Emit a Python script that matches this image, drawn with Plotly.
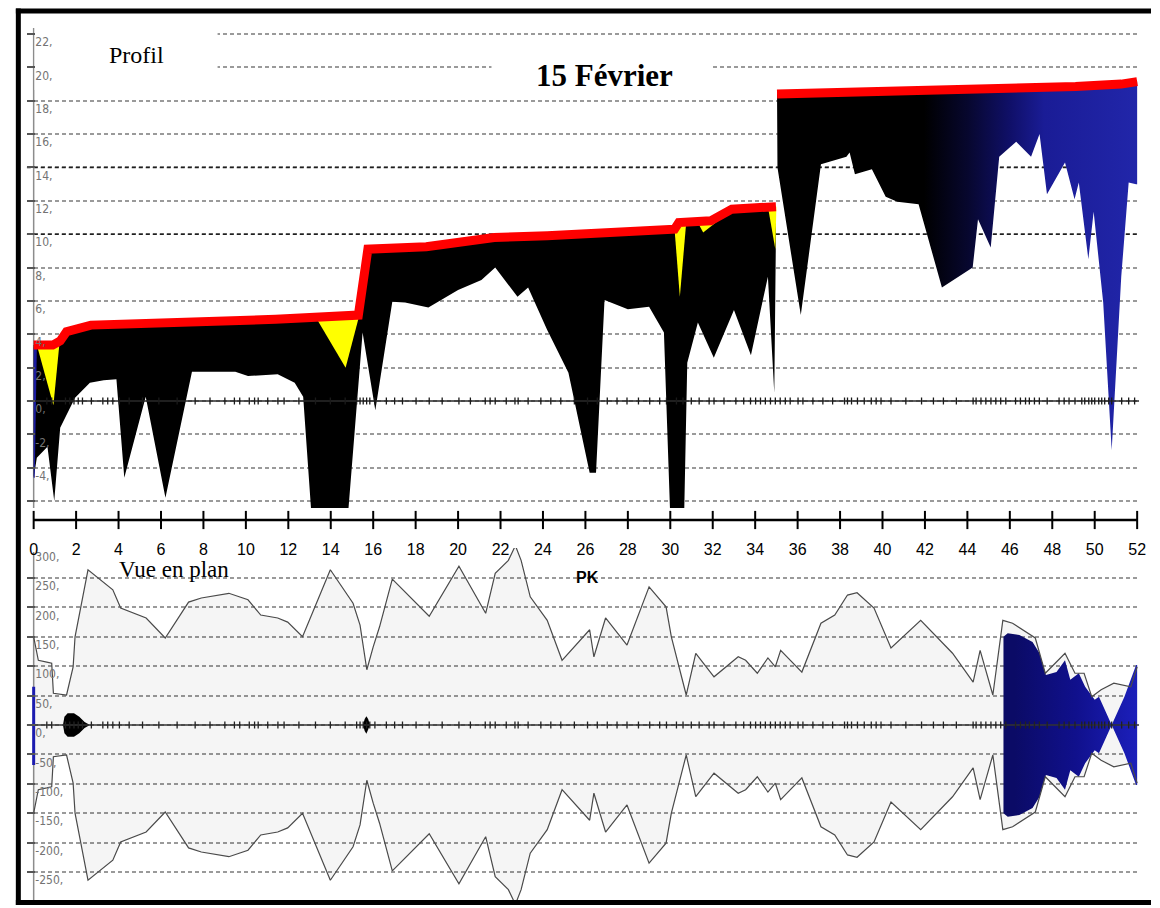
import plotly.graph_objects as go

W, H = 1160, 908

# ---------------------------------------------------------------
# Profil en long (PK en km, cotes en m)
# ---------------------------------------------------------------
pk_niveau = [0.0, 0.9, 1.25, 1.55, 2.7, 7.3, 11.4, 15.3, 15.75, 18.5, 21.7, 24.2,
             28.4, 30.2, 30.4, 31.9, 32.9, 34.98, 35.03, 38.8, 44.1, 49.1, 51.25, 52.0]
z_niveau = [3.35, 3.35, 3.6, 4.15, 4.55, 4.7, 4.9, 5.15, 9.1, 9.25, 9.8, 9.9,
            10.1, 10.3, 10.7, 10.8, 11.5, 11.65, 18.4, 18.5, 18.6, 18.85, 19.0, 19.15]

pk_fond = [0.0, 0.15, 0.65, 0.97, 1.25, 1.95, 2.65, 3.3, 3.9, 4.27, 5.28, 6.21,
           7.46, 9.5, 10.1, 11.5, 12.3, 12.7, 13.1, 14.8, 15.5, 16.1, 16.9, 17.5,
           18.6, 20.0, 21.1, 21.75, 22.8, 23.3, 24.2, 25.2, 26.2, 26.5, 26.9, 28.0,
           29.0, 29.7, 30.0, 30.65, 30.8, 31.3, 32.05, 33.0, 33.8, 34.6, 34.9, 34.97,
           35.05, 36.15, 37.1, 38.3, 38.45, 38.7, 39.5, 40.15, 40.7, 41.7, 42.8, 44.25,
           44.5, 45.1, 45.5, 46.3, 47.0, 47.4, 47.75, 48.6, 49.05, 49.25, 49.7, 49.95,
           50.4, 50.8, 51.25, 51.6, 51.95, 52.0]
z_fond = [-4.6, -3.4, -2.75, -6.0, -1.6, 0.2, 1.1, 1.25, 1.3, -4.6, 0.25, -5.8,
          1.75, 1.75, 1.5, 1.6, 1.1, 0.25, -7.0, -7.0, 4.1, -0.55, 5.95, 5.9,
          5.6, 6.65, 7.25, 8.0, 6.25, 6.8, 4.25, 1.7, -4.3, -4.3, 6.05, 5.5,
          5.65, 4.1, -7.0, -7.0, 2.3, 4.7, 2.6, 5.45, 2.75, 7.45, 0.5, 9.0,
          14.0, 5.15, 14.2, 14.65, 14.9, 13.6, 13.9, 12.25, 11.95, 11.8, 6.8, 8.0,
          10.9, 9.2, 14.65, 15.55, 14.65, 16.0, 12.4, 14.3, 12.1, 13.1, 8.5, 11.35,
          5.9, -2.95, 7.45, 13.1, 13.0, 13.0]

# bande bleue au PK 0
pk_bleu_pk0 = [0.0, 0.15, 0.05, 0.0]
z_bleu_pk0 = [3.2, 3.2, -4.6, -4.6]

# zones jaunes
pk_jaunes = [[0.15, 0.93, 1.22], [13.3, 14.7, 15.35], [30.2, 30.45, 30.75],
             [31.25, 31.55, 32.45], [34.6, 34.95, 35.0]]
z_jaunes = [[3.35, -0.25, 3.5], [5.0, 2.0, 5.15], [10.3, 6.25, 10.7],
            [10.8, 10.1, 11.0], [11.65, 9.1, 11.65]]

# profils en travers (repères sur l'axe)
stations_pk = [0.62, 0.85, 1.5, 1.7, 1.9, 2.1, 2.3, 2.72, 3.26, 3.49, 3.73, 4.04, 4.5,
               5.13, 5.9, 6.76, 7.61, 8.31, 9.01, 9.46, 9.71, 10.16, 10.41, 10.58, 11.03,
               11.51, 11.8, 12.5, 13.28, 13.98, 14.68, 15.22, 15.38, 15.53, 15.69, 15.84,
               16.08, 16.62, 17.01, 17.38, 18.02, 18.64, 19.25, 20.04, 20.58, 21.28, 21.51,
               21.75, 22.27, 22.68, 22.83, 23.3, 23.9, 24.37, 24.84, 25.48, 26.1, 26.56,
               27.03, 27.49, 27.96, 28.5, 29.03, 29.5, 29.82, 30.29, 30.6, 30.99, 31.36,
               31.83, 32.06, 32.53, 33.09, 33.46, 33.78, 34.02, 34.25, 34.48, 34.72, 34.95,
               35.18, 35.42, 35.65, 36.02, 36.25, 36.72, 37.19, 37.65, 38.21, 38.35, 38.54,
               38.82, 39.14, 39.47, 39.7, 39.93, 40.4, 41.1, 41.84, 42.4, 42.87, 43.48,
               44.27, 44.41, 44.64, 44.87, 45.11, 45.34, 45.57, 45.81, 46.27, 46.5, 46.74,
               46.92, 47.16, 47.39, 47.76, 48.32, 48.56, 48.79, 49.07, 49.39, 49.53, 49.72,
               49.86, 50.0, 50.19, 50.33, 50.47, 50.66, 50.8, 51.27, 51.6, 51.88]

# ---------------------------------------------------------------
# Vue en plan (demi-largeurs en m)
# ---------------------------------------------------------------
pk_largeur = [0.0, 0.22, 0.62, 0.85, 0.93, 1.55, 1.86, 1.95, 2.56, 3.73, 4.1, 5.3,
              6.2, 7.3, 7.9, 9.2, 10.1, 10.7, 11.5, 11.97, 12.67, 13.98, 15.05, 15.38,
              15.7, 16.0, 16.3, 16.9, 18.64, 20.04, 21.3, 21.75, 22.37, 22.7, 22.97, 23.4,
              24.2, 24.9, 26.2, 26.4, 26.95, 27.96, 29.0, 29.8, 30.05, 30.75, 31.2, 32.06,
              33.2, 33.55, 34.1, 34.6, 34.95, 35.2, 36.2, 37.1, 37.75, 38.35, 38.8, 39.6,
              40.4, 41.8, 43.3, 44.27, 44.6, 45.2, 45.67, 46.13, 47.2, 47.67, 48.6, 49.07,
              49.5, 49.86, 50.3, 50.9, 51.7, 52.0]
demi_largeur = [150, 110, 107, 105, 54, 51, 99, 150, 264, 230, 199, 182,
                148, 209, 216, 224, 213, 187, 182, 175, 150, 264, 207, 170,
                94, 133, 167, 248, 185, 270, 190, 258, 280, 305, 280, 218,
                178, 110, 162, 116, 182, 136, 235, 201, 150, 51, 122, 82,
                116, 110, 88, 114, 99, 127, 90, 173, 187, 221, 225, 199,
                131, 178, 122, 73, 127, 51, 178, 173, 148, 88, 122, 88,
                88, 48, 60, 71, 65, 99]

pk_eau_plan = [45.7, 45.9, 46.45, 47.07, 47.4, 47.7, 48.2, 48.6, 48.85, 49.25, 49.55,
               50.0, 50.2, 50.8, 51.4, 51.95, 52.0]
demi_largeur_eau = [150, 156, 153, 141, 122, 85, 90, 110, 77, 88, 65,
                    43, 48, 0, 48, 102, 102]

pk_tache_1 = [1.38, 1.45, 1.6, 1.9, 2.15, 2.4, 2.65]
l_tache_1 = [0, 14, 20, 20, 14, 5, 0]
pk_tache_2 = [15.52, 15.6, 15.68, 15.76, 15.85]
l_tache_2 = [0, 10, 15, 10, 0]

pk_bleu_plan0 = [0.0, 0.0]
l_bleu_plan0 = [65, -68]

graduations_pk = [0, 2, 4, 6, 8, 10, 12, 14, 16, 18, 20, 22, 24, 26, 28, 30, 32, 34,
                  36, 38, 40, 42, 44, 46, 48, 50, 52]
cotes_profil = [-6, -4, -2, 0, 2, 4, 6, 8, 10, 12, 14, 16, 18, 20, 22]
cotes_repere = [10, 14]
cotes_plan = [-300, -250, -200, -150, -100, -50, 0, 50, 100, 150, 200, 250, 300]

# ---------------------------------------------------------------
# Mise en page (pixels -> coordonnées)
# ---------------------------------------------------------------
PX_PK0, PX_PK52 = 30, 1146
KM_PX = (PX_PK52 - PX_PK0) / 52.0
PX_Z0, M_PX = 401, 16.68          # profil
PX_L0, L_PX = 725, 0.588          # vue en plan


def pk_px(px):
    return (px - PX_PK0) / KM_PX


def z_px(py):
    return (PX_Z0 - py) / M_PX


def l_px(py):
    return (PX_L0 - py) / L_PX


X_LO, X_HI = pk_px(23), pk_px(1148)

fig = go.Figure()


def poly(x, y, color, xa="x", ya="y", **kw):
    fig.add_trace(go.Scatter(x=x, y=y, mode="lines", fill="toself", fillcolor=color,
                             line=dict(width=0, color="rgba(0,0,0,0)"),
                             xaxis=xa, yaxis=ya, hoverinfo="skip", **kw))


# --- profil : masse noire (PK < 35) et dégradé (PK > 35)
RUPTURE = 35.0
nl = [(p, z) for p, z in zip(pk_niveau, z_niveau) if p <= RUPTURE]
fl = [(p, z) for p, z in zip(pk_fond, z_fond) if p <= RUPTURE]
nr = [(p, z) for p, z in zip(pk_niveau, z_niveau) if p > RUPTURE]
fr = [(p, z) for p, z in zip(pk_fond, z_fond) if p > RUPTURE]

poly([p for p, _ in nl] + [p for p, _ in fl[::-1]],
     [z for _, z in nl] + [z for _, z in fl[::-1]], "#000000")

xr = [p for p, _ in nr] + [p for p, _ in fr[::-1]]
yr = [z for _, z in nr] + [z for _, z in fr[::-1]]
fig.add_trace(go.Scatter(
    x=xr, y=yr, mode="lines", fill="toself",
    line=dict(width=0, color="rgba(0,0,0,0)"),
    fillgradient=dict(type="horizontal", start=min(xr), stop=max(xr),
                      colorscale=[[0, "#000000"], [0.38, "#000000"], [0.5, "#07072e"],
                                  [0.62, "#10106a"], [0.71, "#1a1c96"], [1, "#2227ac"]]),
    xaxis="x", yaxis="y", hoverinfo="skip"))

poly(pk_bleu_pk0, z_bleu_pk0, "#1c1ca0")
for px_, pz_ in zip(pk_jaunes, z_jaunes):
    poly(px_, pz_, "#ffff00")

# ligne rouge (niveau), interrompue à la rupture
for seg in (nl, nr):
    fig.add_trace(go.Scatter(x=[p for p, _ in seg], y=[z for _, z in seg], mode="lines",
                             line=dict(color="#ff0000", width=9),
                             xaxis="x", yaxis="y", hoverinfo="skip"))

# axe du profil et repères des profils en travers
fig.add_trace(go.Scatter(x=[X_LO, X_HI], y=[0, 0], mode="lines",
                         line=dict(color="#2a2a2a", width=1.5),
                         xaxis="x", yaxis="y", hoverinfo="skip"))
fig.add_trace(go.Scatter(x=stations_pk, y=[0] * len(stations_pk), mode="markers",
                         marker=dict(symbol="line-ns", size=5,
                                     line=dict(color="#1a1a1a", width=1.3)),
                         xaxis="x", yaxis="y", hoverinfo="skip"))

# --- vue en plan
poly(pk_largeur + pk_largeur[::-1],
     demi_largeur + [-v for v in demi_largeur[::-1]],
     "rgba(0,0,0,0.04)", xa="x2", ya="y2")

fig.add_trace(go.Scatter(
    x=pk_eau_plan + pk_eau_plan[::-1],
    y=demi_largeur_eau + [-v for v in demi_largeur_eau[::-1]],
    mode="lines", fill="toself", line=dict(width=0, color="rgba(0,0,0,0)"),
    fillgradient=dict(type="horizontal", start=min(pk_eau_plan), stop=max(pk_eau_plan),
                      colorscale=[[0, "#0b0b66"], [0.45, "#10108c"], [1, "#1e22c4"]]),
    xaxis="x2", yaxis="y2", hoverinfo="skip"))

for tp, tl in ((pk_tache_1, l_tache_1), (pk_tache_2, l_tache_2)):
    poly(tp + tp[::-1], tl + [-v for v in tl[::-1]], "#000000", xa="x2", ya="y2")

for sgn in (1, -1):
    fig.add_trace(go.Scatter(x=pk_largeur, y=[sgn * v for v in demi_largeur], mode="lines",
                             line=dict(color="#4a4a4a", width=1.2),
                             xaxis="x2", yaxis="y2", hoverinfo="skip"))

fig.add_trace(go.Scatter(x=pk_bleu_plan0, y=l_bleu_plan0, mode="lines",
                         line=dict(color="#1c1cb0", width=3),
                         xaxis="x2", yaxis="y2", hoverinfo="skip"))
fig.add_trace(go.Scatter(x=[X_LO, X_HI], y=[0, 0], mode="lines",
                         line=dict(color="#333333", width=1.5),
                         xaxis="x2", yaxis="y2", hoverinfo="skip"))
fig.add_trace(go.Scatter(x=stations_pk, y=[0] * len(stations_pk), mode="markers",
                         marker=dict(symbol="line-ns", size=5,
                                     line=dict(color="#222222", width=1.3)),
                         xaxis="x2", yaxis="y2", hoverinfo="skip"))

# --- axe des PK (entre les deux vues)
fig.add_trace(go.Scatter(x=graduations_pk, y=[0] * len(graduations_pk), mode="lines+markers",
                         line=dict(color="#000000", width=2.5),
                         marker=dict(symbol="line-ns", size=13,
                                     line=dict(color="#000000", width=2)),
                         cliponaxis=False, xaxis="x3", yaxis="y3", hoverinfo="skip"))

# ---------------------------------------------------------------
# Axes
# ---------------------------------------------------------------
GRID = dict(showgrid=True, gridcolor="#9a9a9a", gridwidth=1.5, griddash="4px,3px",
            zeroline=False, showline=False, ticks="inside", ticklen=8, tickwidth=1.5,
            tickcolor="#555555", ticklabelposition="inside", ticklabelshift=8,
            tickfont=dict(family="Liberation Sans Narrow, DejaVu Sans Condensed, sans-serif",
                          size=12, color="#737373"),
            fixedrange=True)
XDATA = dict(domain=[23 / W, 1148 / W], range=[X_LO, X_HI], showgrid=False, zeroline=False,
             showticklabels=False, ticks="", showline=False, fixedrange=True)

fig.update_layout(
    width=W, height=H, margin=dict(l=0, r=0, t=0, b=0),
    paper_bgcolor="white", plot_bgcolor="rgba(0,0,0,0)", showlegend=False,
    xaxis=dict(**XDATA, anchor="y"),
    yaxis=dict(**GRID, anchor="x", domain=[1 - 508 / H, 1 - 25 / H],
               range=[z_px(508), z_px(25)], tickvals=cotes_profil,
               ticktext=[f"{v}," for v in cotes_profil]),
    xaxis2=dict(**XDATA, anchor="y2"),
    yaxis2=dict(**GRID, anchor="x2", domain=[1 - 903 / H, 1 - 548 / H],
                range=[l_px(903), l_px(548)], tickvals=cotes_plan,
                ticktext=[f"{v}," for v in cotes_plan]),
    xaxis3=dict(domain=[PX_PK0 / W, PX_PK52 / W], range=[0, 52], anchor="y3",
                showgrid=False, zeroline=False, showline=False, ticks="",
                tickvals=graduations_pk, ticktext=[str(v) for v in graduations_pk],
                ticklabelstandoff=12,
                tickfont=dict(family="Liberation Sans, Arial, sans-serif", size=16,
                              color="#000000"),
                fixedrange=True),
    yaxis3=dict(domain=[1 - 526 / H, 1 - 514 / H], range=[-1, 1], visible=False,
                anchor="x3", fixedrange=True),
)

# ---------------------------------------------------------------
# Habillage
# ---------------------------------------------------------------
shapes = []
# repères foncés
for c in cotes_repere:
    shapes.append(dict(type="line", xref="x", yref="y", x0=X_LO, x1=X_HI, y0=c, y1=c,
                       layer="between", line=dict(color="#1e1e1e", width=1.5, dash="4px,3px")))
# axes verticaux
shapes.append(dict(type="line", xref="x", yref="y", x0=0, x1=0, y0=z_px(28), y1=z_px(508),
                   layer="between", line=dict(color="#8c8c8c", width=1.5)))
shapes.append(dict(type="line", xref="x2", yref="y2", x0=0, x1=0, y0=l_px(552), y1=l_px(903),
                   layer="between", line=dict(color="#8c8c8c", width=1.5)))
# cartouches blancs
shapes.append(dict(type="rect", xref="x", yref="y", x0=pk_px(31), x1=pk_px(216),
                   y0=z_px(90), y1=z_px(26), layer="between", fillcolor="white",
                   line=dict(width=0)))
shapes.append(dict(type="rect", xref="x", yref="y", x0=pk_px(493), x1=pk_px(715),
                   y0=z_px(100), y1=z_px(45), layer="between", fillcolor="white",
                   line=dict(width=0)))
# cadre (gauche, haut, bas)
CADRE = dict(color="#000000", width=5)
for x0, y0, x1, y1 in ((14.5, 8.5, 14.5, 905), (12, 11, 1160, 11), (12, 902.5, 1160, 902.5)):
    shapes.append(dict(type="line", xref="paper", yref="paper", x0=x0 / W, x1=x1 / W,
                       y0=1 - y0 / H, y1=1 - y1 / H, layer="above", line=CADRE))
fig.update_layout(shapes=shapes)


def label(text, px, py, size, family, bold=False, xanchor="center"):
    fig.add_annotation(x=px / W, y=1 - py / H, xref="paper", yref="paper",
                       text=f"<b>{text}</b>" if bold else text, showarrow=False,
                       xanchor=xanchor, yanchor="middle",
                       font=dict(family=family, size=size, color="#000000"))


SERIF = "Liberation Serif, Times New Roman, serif"
label("Profil", 134, 55, 24, SERIF)
label("15 Février", 607, 75, 31, SERIF, bold=True)
label("Vue en plan", 114, 569, 23, SERIF, xanchor="left")
label("PK", 590, 577, 16, "Liberation Sans, Arial, sans-serif", bold=True)

fig.write_html("out.html")
